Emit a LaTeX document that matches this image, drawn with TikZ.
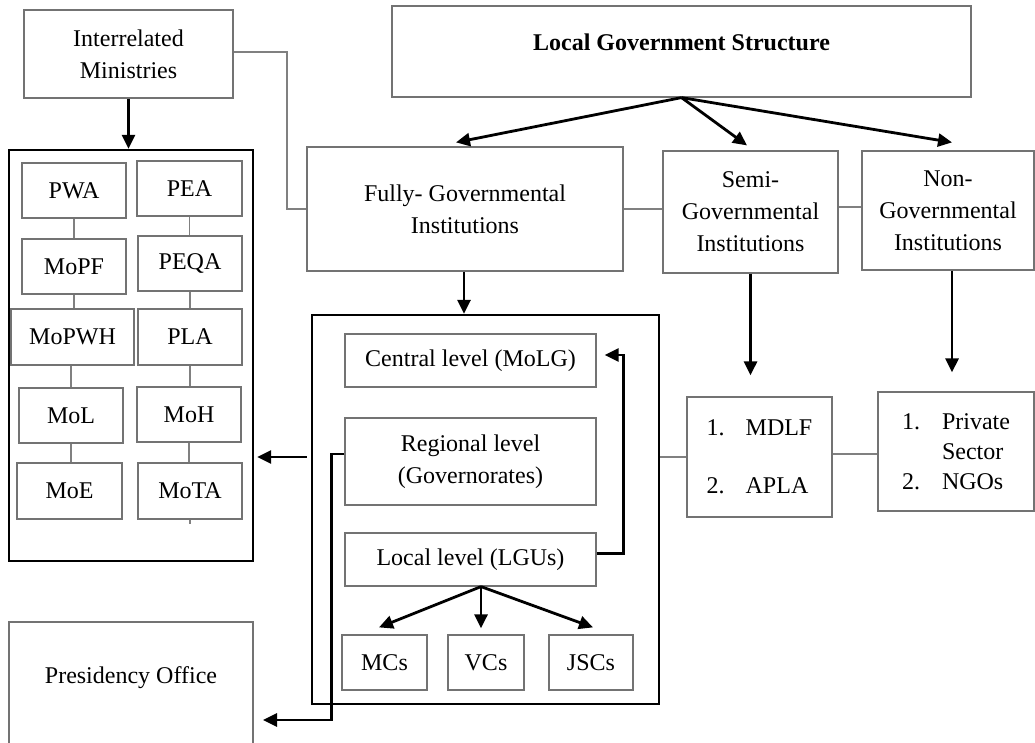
\documentclass[tikz,border=0pt]{standalone}
\usepackage{fontspec}
\setmainfont{Liberation Serif}
\usetikzlibrary{arrows.meta,calc}
\begin{document}
\begin{tikzpicture}[x=1pt,y=-1pt,
  every node/.style={font=\fontsize{24}{32}\selectfont},
  box/.style={draw=black!55, line width=1.2pt, inner sep=0pt, align=center},
  cont/.style={draw=black, line width=2.2pt, inner sep=0pt},
  conn/.style={draw=black!50, line width=1.1pt},
  arr/.style={draw=black, line width=2.8pt, -{Triangle[length=14pt,width=13pt]}}]
\useasboundingbox (0,0) rectangle (1035,743);

% containers
\node[cont, minimum width=244pt, minimum height=411pt] (minbox) at (131,355.5) {};
\node[cont, minimum width=347pt, minimum height=389pt] (midbox) at (485.5,509.5) {};

% top row
\node[box, minimum width=209pt, minimum height=88pt] (inter) at (128.5,54) {Interrelated\\Ministries};
\node[box, minimum width=579pt, minimum height=91pt, text height=17pt, text depth=18pt,
      font=\fontsize{24}{32}\selectfont\bfseries] (lgs) at (681.5,51.5) {Local Government Structure};
\node[box, minimum width=316pt, minimum height=124pt] (fully) at (465,209) {Fully- Governmental\\Institutions};
\node[box, minimum width=175pt, minimum height=122pt] (semi) at (750.5,212) {Semi-\\Governmental\\Institutions};
\node[box, minimum width=172pt, minimum height=119pt] (non) at (948,210.5) {Non-\\Governmental\\Institutions};

% ministries
\node[box, minimum width=104pt, minimum height=55pt] (pwa) at (74,190.5) {PWA};
\node[box, minimum width=105pt, minimum height=55pt] (pea) at (189.5,188.5) {PEA};
\node[box, minimum width=104pt, minimum height=55pt] (mopf) at (74,266.5) {MoPF};
\node[box, minimum width=104pt, minimum height=55pt] (peqa) at (190,263.5) {PEQA};
\node[box, minimum width=123pt, minimum height=56pt] (mopwh) at (72.5,337) {MoPWH};
\node[box, minimum width=104pt, minimum height=56pt] (pla) at (190,337) {PLA};
\node[box, minimum width=104pt, minimum height=55pt] (mol) at (71,415.5) {MoL};
\node[box, minimum width=104pt, minimum height=55pt] (moh) at (189,414.5) {MoH};
\node[box, minimum width=105pt, minimum height=56pt] (moe) at (69.5,491) {MoE};
\node[box, minimum width=104pt, minimum height=56pt] (mota) at (190,491) {MoTA};

% levels
\node[box, minimum width=251pt, minimum height=53pt] (central) at (470.5,360.5) {Central level (MoLG)};
\node[box, minimum width=251pt, minimum height=87pt] (regional) at (470.5,461.5) {Regional level\\(Governorates)};
\node[box, minimum width=251pt, minimum height=53pt] (local) at (470.5,559.5) {Local level (LGUs)};
\node[box, minimum width=85pt, minimum height=55pt] (mcs) at (384.5,662.5) {MCs};
\node[box, minimum width=76pt, minimum height=55pt] (vcs) at (486,662.5) {VCs};
\node[box, minimum width=84pt, minimum height=55pt] (jscs) at (591,662.5) {JSCs};

% lists
\node[box, minimum width=145pt, minimum height=120pt, align=left] (mdlf) at (759.5,457)
  {\makebox[39pt][l]{1.}MDLF\\[26pt]\makebox[39pt][l]{2.}APLA};
\node[box, minimum width=156pt, minimum height=119pt, align=left,
      font=\fontsize{24}{30}\selectfont] (priv) at (956,451.5)
  {\makebox[40pt][l]{1.}Private\\\makebox[40pt][l]{}Sector\\\makebox[40pt][l]{2.}NGOs};

% presidency
\node[box, minimum width=244pt, minimum height=123pt, text height=17pt, text depth=17pt] (pres) at (131,683.5) {Presidency Office};

% thin connectors
\draw[conn] ($(inter.east)+(0,-2)$) -- (287,52) -- (287,209) -- (fully.west);
\draw[conn] (fully.east) -- (fully.east -| semi.west);
\draw[conn] ($(semi.east)+(0,-5)$) -- ($(semi.east -| non.west)+(0,-5)$);
\draw[conn] (midbox.east |- mdlf.west) -- (mdlf.west);
\draw[conn] ($(mdlf.east)+(0,-3)$) -- ($(mdlf.east -| priv.west)+(0,-3)$);
\draw[conn] (pwa.south) -- (pwa.south |- mopf.north);
\draw[conn] (mopf.south) -- (mopf.south |- mopwh.north);
\draw[conn] (mol.north |- mopwh.south) -- (mol.north);
\draw[conn] (mol.south) -- (mol.south |- moe.north);
\draw[conn] (pea.south) -- (pea.south |- peqa.north);
\draw[conn] (peqa.south) -- (peqa.south |- pla.north);
\draw[conn] (pla.south) -- (pla.south |- moh.north);
\draw[conn] (moh.south) -- (moh.south |- mota.north);
\draw[conn] (mota.south) -- ++(0,4);

% arrows
\draw[arr] (inter.south) -- (inter.south |- minbox.north);
\draw[arr] (lgs.south) -- ($(fully.north)+(-9,-4)$);
\draw[arr] (lgs.south) -- ($(semi.north)+(-3.5,-5)$);
\draw[arr] (lgs.south) -- ($(non.north)+(4,-8)$);
\draw[arr] ($(fully.south)+(-1,0)$) -- ($(fully.south |- midbox.north)+(-1,0)$);
\draw[arr] (semi.south) -- ($(semi.south |- mdlf.north)+(0,-21)$);
\draw[arr] ($(non.south)+(4,0)$) -- ($(non.south |- priv.north)+(4,-19)$);
\draw[arr] ($(midbox.west |- mdlf.west)+(-4,0)$) -- ($(minbox.east |- mdlf.west)+(3,0)$);
\draw[arr] ($(local.east)+(0,-6)$) -- ($(local.east)+(27,-6)$) |- ($(central.east)+(8,-5.5)$);
\coordinate (ptip) at (263,720);
\draw[arr] ($(regional.west)+(0,-7.5)$) -- ++(-13,0) |- (ptip);
\coordinate (lapex) at ($(local.south)+(10.5,0)$);
\draw[arr] (lapex) -- ($(mcs.north)+(-5.5,-7)$);
\draw[arr] (lapex) -- ($(vcs.north)+(-5,-6)$);
\draw[arr] (lapex) -- ($(jscs.north)+(2,-7)$);
\end{tikzpicture}
\end{document}
